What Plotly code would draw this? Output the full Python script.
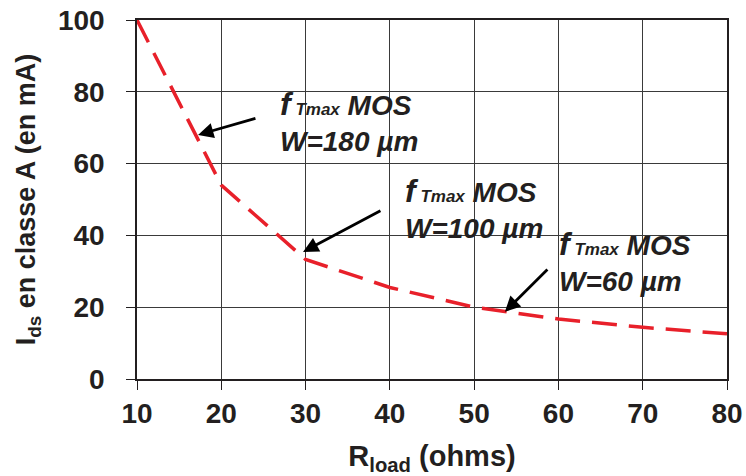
import plotly.graph_objects as go

r_load = [10, 20, 30, 40, 50, 60, 70, 80]
i_ds = [100, 54, 33.3, 25.5, 20, 16.7, 14.4, 12.6]

x_ticks = [10, 20, 30, 40, 50, 60, 70, 80]
y_ticks = [0, 20, 40, 60, 80, 100]

labels = ["W=180 µm", "W=100 µm", "W=60 µm"]
label_x = [26.73, 41.55, 59.82]
label_y = [71.6, 47.6, 32.6]
arrow_head_x = [17.24, 29.7, 53.65]
arrow_head_y = [68.0, 35.4, 18.7]
arrow_tail_x = [24.23, 39.06, 58.87]
arrow_tail_y = [72.7, 47.1, 30.9]

FONT = "Liberation Sans, Arial, sans-serif"

fig = go.Figure()
fig.add_trace(go.Scatter(
    x=r_load, y=i_ds, mode="lines",
    line=dict(color="#e8202a", width=3.5, dash="25px,12px"),
    showlegend=False, hoverinfo="skip",
))

annotations = []
for lab, lx, ly in zip(labels, label_x, label_y):
    annotations.append(dict(
        x=lx, y=ly, xref="x", yref="y", xanchor="left", yanchor="middle",
        align="left", showarrow=False,
        text=("<b><i><span style='font-size:32px'>f</span>"
              "<span style='font-size:17px'> Tmax</span> MOS<br>"
              + lab + "</i></b>"),
        font=dict(family=FONT, size=28, color="#231f20"),
    ))
for hx, hy, tx, ty in zip(arrow_head_x, arrow_head_y, arrow_tail_x, arrow_tail_y):
    annotations.append(dict(
        x=hx, y=hy, xref="x", yref="y", ax=tx, ay=ty, axref="x", ayref="y",
        text="", showarrow=True, arrowhead=2, arrowsize=1.1, arrowwidth=2.8,
        arrowcolor="black",
    ))

axis_common = dict(
    showline=True, linecolor="#231f20", linewidth=1.5, mirror=True,
    showgrid=True, gridcolor="#3a3a3a", gridwidth=1,
    ticks="outside", ticklen=9, tickcolor="#231f20", tickwidth=1,
    tickfont=dict(family=FONT, size=28, color="#231f20"),
    zeroline=False, automargin=False,
)

fig.update_layout(
    width=746, height=476,
    margin=dict(l=137, r=19, t=20, b=97),
    paper_bgcolor="white", plot_bgcolor="white",
    xaxis=dict(
        range=[10, 80], tickvals=x_ticks,
        ticktext=[f"<b>{v}</b>" for v in x_ticks],
        title=dict(text="<b>R<sub>load</sub> (ohms)</b>",
                   font=dict(family=FONT, size=29, color="#231f20"), standoff=20),
        **axis_common,
    ),
    yaxis=dict(
        range=[0, 100], tickvals=y_ticks,
        ticktext=[f"<b>{v}</b>" for v in y_ticks],
        ticklabelstandoff=16,
        title=dict(text="<b>I<sub>ds</sub> en classe A (en mA)</b>",
                   font=dict(family=FONT, size=27, color="#231f20"), standoff=14),
        **axis_common,
    ),
    annotations=annotations,
)

fig.write_html("out.html",
               config={"displayModeBar": False},
               post_script="document.body.style.margin='0';document.body.style.padding='0';")
